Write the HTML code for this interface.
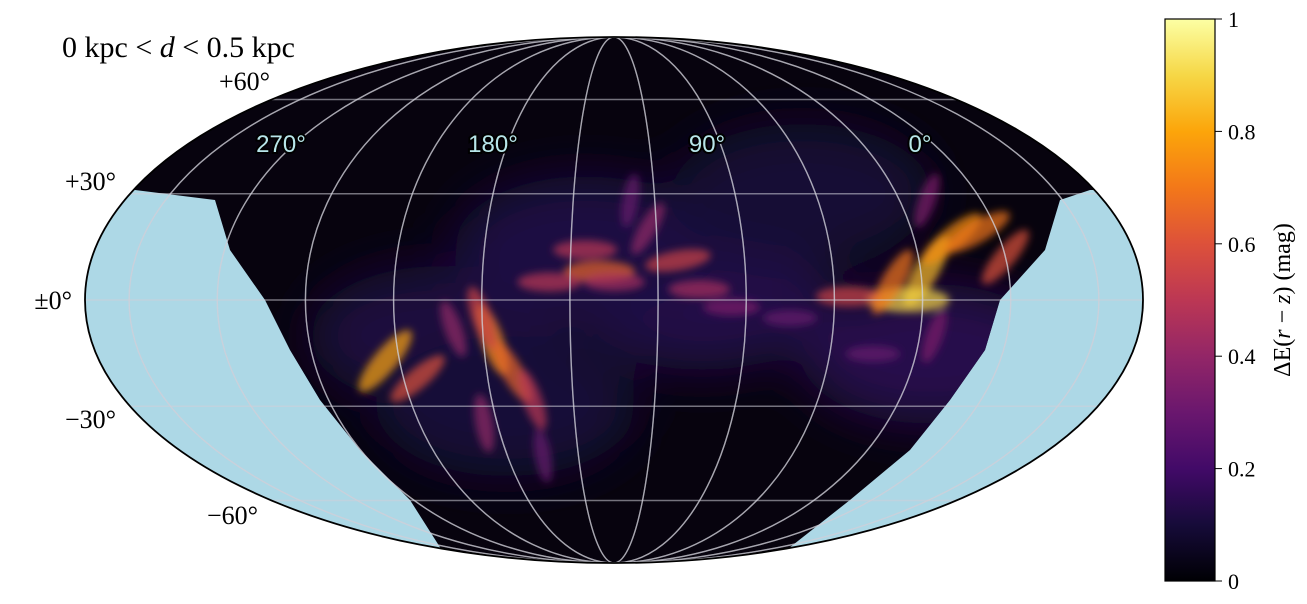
<!DOCTYPE html>
<html><head><meta charset="utf-8"><style>
body{margin:0;background:#fff;width:1307px;height:604px;overflow:hidden}
svg{display:block}
.t{font-family:"Liberation Serif",serif;fill:#000}
.lon{font-family:"Liberation Sans",sans-serif;font-size:24px;fill:#b8e6ea;stroke:#000;stroke-width:4px;paint-order:stroke;text-anchor:middle}
</style></head><body>
<svg id="s" width="1307" height="604" viewBox="0 0 1307 604">
<defs>
<clipPath id="ell"><ellipse cx="614" cy="300" rx="529" ry="263"/></clipPath>
<clipPath id="cov"><polygon points="0,0 1307,0 1307,190 1090,190 1060,200 1045,250 1000,300 985,350 950,400 910,450 850,500 770,563 450,563 410,500 360,450 320,400 290,350 265,300 230,250 215,200 135,190 0,190"/></clipPath>
<filter id="bl" x="-50%" y="-50%" width="200%" height="200%"><feGaussianBlur stdDeviation="4"/></filter>
<filter id="bl2" x="-50%" y="-50%" width="200%" height="200%"><feGaussianBlur stdDeviation="25"/></filter>
<linearGradient id="inf" x1="0" y1="1" x2="0" y2="0">
<stop offset="0" stop-color="#000004"/><stop offset="0.1" stop-color="#160b39"/><stop offset="0.2" stop-color="#420a68"/><stop offset="0.3" stop-color="#6a176e"/><stop offset="0.4" stop-color="#932667"/><stop offset="0.5" stop-color="#bc3754"/><stop offset="0.6" stop-color="#dd513a"/><stop offset="0.7" stop-color="#f37819"/><stop offset="0.8" stop-color="#fca50a"/><stop offset="0.9" stop-color="#f6d746"/><stop offset="1" stop-color="#fcffa4"/>
</linearGradient>
</defs>
<g clip-path="url(#ell)">
<rect x="0" y="0" width="1307" height="604" fill="#add8e6"/>
<g clip-path="url(#cov)">
<rect x="0" y="0" width="1307" height="604" fill="#07030e"/>
<g id="haze" filter="url(#bl2)"></g>
<g id="blobs" filter="url(#bl)"></g>
</g>
<g id="grid" fill="none" stroke="#d0d0d8" stroke-opacity="0.55" stroke-width="1.4"></g>
</g>
<ellipse cx="614" cy="300" rx="529" ry="263" fill="none" stroke="#000" stroke-width="1.8"/>
<text class="t" x="62" y="57" font-size="30">0 kpc &lt; <tspan font-style="italic">d</tspan> &lt; 0.5 kpc</text>
<g class="t" font-size="26" text-anchor="end">
<text x="270" y="90">+60°</text><text x="116" y="190">+30°</text><text x="72" y="309">±0°</text><text x="116" y="428">−30°</text><text x="258" y="524">−60°</text>
</g>
<g>
<text class="lon" x="281" y="152">270°</text><text class="lon" x="493" y="152">180°</text><text class="lon" x="707" y="152">90°</text><text class="lon" x="920" y="152">0°</text>
</g>
<rect x="1165" y="19" width="50" height="562" fill="url(#inf)" stroke="#000" stroke-width="1.2"/>
<g id="cbt"></g>
<text class="t" font-size="24" transform="translate(1290,300) rotate(-90)" text-anchor="middle">ΔE(<tspan font-style="italic">r</tspan> − <tspan font-style="italic">z</tspan>) (mag)</text>
</svg>
<script>
const blobLon=[107,118,128,100,80,115,-5,22,-22,29,12,6,-42,-36,-80,-50,-30,90,60,110,135,-10,40,-45,-70,-30,95,0,-55];
const blobLat=[8,17,19,0,1,28,8,11,5,3,20,28,-11,-20,-17,-35,-45,-15,-5,-10,12,14,-2,-5,-22,-28,5,5,-8];
const blobVal=[0.85,0.75,0.7,0.9,0.55,0.35,0.65,0.55,0.5,0.45,0.4,0.3,0.75,0.65,0.8,0.4,0.3,0.3,0.3,0.35,0.6,0.5,0.35,0.55,0.6,0.5,0.7,0.45,0.4];
const blobAng=[-60,-40,-30,0,0,-70,0,-10,0,0,-60,-80,70,60,-50,80,80,0,0,-70,-50,0,0,70,-40,70,-60,0,70];
const hazeLon=[30,110,-60,-10,70,-40];
const hazeLat=[0,-15,-10,15,30,-30];
const hazeVal=[0.13,0.14,0.11,0.12,0.09,0.1];
const cbTicks=[0,0.2,0.4,0.6,0.8,1];
const cbLabels=["0","0.2","0.4","0.6","0.8","1"];
const cx=614,cy=300,RX=529,RY=263;
function theta(lat){const p=lat*Math.PI/180;let t=p;for(let i=0;i<30;i++){const f=2*t+Math.sin(2*t)-Math.PI*Math.sin(p);t-=f/(2+2*Math.cos(2*t)+1e-9);}return t;}
function px(lon,lat){const t=theta(lat);return [cx+RX*(lon/180)*Math.cos(t),cy-RY*Math.sin(t)];}
const stops=[[0,0,0,4],[.1,22,11,57],[.2,66,10,104],[.3,106,23,110],[.4,147,38,103],[.5,188,55,84],[.6,221,81,58],[.7,243,120,25],[.8,252,165,10],[.9,246,215,70],[1,252,255,164]];
function inferno(v){for(let i=1;i<stops.length;i++){if(v<=stops[i][0]){const a=stops[i-1],b=stops[i],f=(v-a[0])/(b[0]-a[0]);return `rgb(${[1,2,3].map(k=>Math.round(a[k]+f*(b[k]-a[k]))).join(',')})`;}}return 'rgb(252,255,164)';}
const NS='http://www.w3.org/2000/svg';
const haze=document.getElementById('haze');
hazeLon.forEach((l,i)=>{const [x,y]=px(l,hazeLat[i]);const e=document.createElementNS(NS,'ellipse');


e.setAttribute('cx',x);e.setAttribute('cy',y);e.setAttribute('rx',130);e.setAttribute('ry',70);e.setAttribute('fill',inferno(hazeVal[i]));haze.appendChild(e);});
const bl=document.getElementById('blobs');
blobLon.forEach((l,i)=>{const [x,y]=px(l,blobLat[i]);const e=document.createElementNS(NS,'ellipse');


e.setAttribute('cx',x);e.setAttribute('cy',y);e.setAttribute('rx',20+24*blobVal[i]);e.setAttribute('ry',6+7*blobVal[i]);
e.setAttribute('transform',`rotate(${blobAng[i]} ${x} ${y})`);
e.setAttribute('fill',inferno(blobVal[i]));e.setAttribute('opacity',0.7);bl.appendChild(e);});
const g=document.getElementById('grid');
[-60,-30,0,30,60].forEach(lat=>{const t=theta(lat);const y=cy-RY*Math.sin(t),h=RX*Math.cos(t);const ln=document.createElementNS(NS,'line');


ln.setAttribute('x1',cx-h);ln.setAttribute('x2',cx+h);ln.setAttribute('y1',y);ln.setAttribute('y2',y);g.appendChild(ln);});
for(let k=-165;k<=165;k+=30){const e=document.createElementNS(NS,'ellipse');


e.setAttribute('cx',cx);e.setAttribute('cy',cy);e.setAttribute('rx',Math.abs(RX*k/180));e.setAttribute('ry',RY);g.appendChild(e);}
const cb=document.getElementById('cbt');
cbTicks.forEach((v,i)=>{const y=581-v*562;const ln=document.createElementNS(NS,'line');


ln.setAttribute('x1',1215);ln.setAttribute('x2',1222);ln.setAttribute('y1',y);ln.setAttribute('y2',y);ln.setAttribute('stroke','#000');cb.appendChild(ln);
const t=document.createElementNS(NS,'text');


t.setAttribute('x',1228);t.setAttribute('y',y+8);t.setAttribute('class','t');t.setAttribute('font-size','22');t.textContent=cbLabels[i];cb.appendChild(t);});
</script>
</body></html>
